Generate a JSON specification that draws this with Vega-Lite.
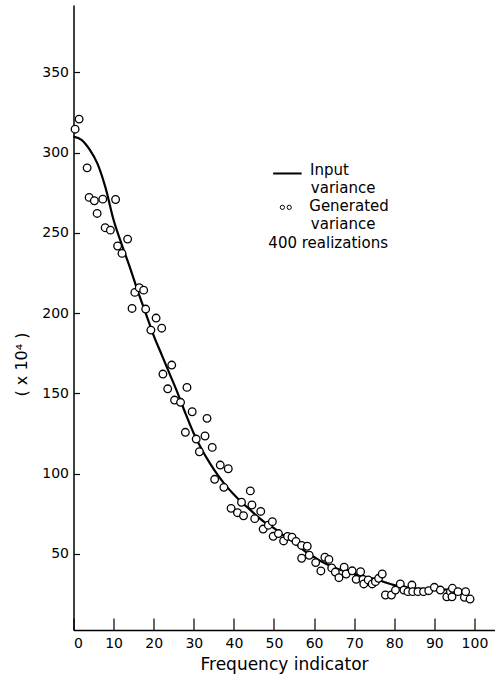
{
  "$schema": "https://vega.github.io/schema/vega-lite/v6.json",
  "width": 421,
  "height": 625,
  "autosize": {"type": "none"},
  "padding": {"left": 73.5, "top": 5, "right": 0.5, "bottom": 48},
  "background": "white",
  "config": {
    "view": {"stroke": null},
    "font": "DejaVu Sans",
    "axis": {
      "domainColor": "black",
      "domainWidth": 1.5,
      "tickColor": "black",
      "tickWidth": 1.2,
      "labelColor": "black",
      "labelFont": "DejaVu Sans",
      "labelFontSize": 14,
      "titleColor": "black",
      "titleFont": "DejaVu Sans",
      "titleFontWeight": "normal",
      "grid": false
    },
    "text": {"font": "DejaVu Sans", "fontSize": 15, "color": "black", "align": "left", "baseline": "alphabetic"}
  },
  "datasets": {
    "input": [
      {"k": 0, "v": 310}, {"k": 2, "v": 308}, {"k": 4, "v": 302}, {"k": 6, "v": 293},
      {"k": 8, "v": 278}, {"k": 10, "v": 258}, {"k": 12, "v": 243}, {"k": 14, "v": 229},
      {"k": 16, "v": 214}, {"k": 18, "v": 200}, {"k": 20, "v": 186}, {"k": 22, "v": 174},
      {"k": 24, "v": 162}, {"k": 26, "v": 150}, {"k": 28, "v": 137}, {"k": 30, "v": 125},
      {"k": 32, "v": 115}, {"k": 34, "v": 106.5}, {"k": 36, "v": 99}, {"k": 38, "v": 92.5},
      {"k": 40, "v": 87}, {"k": 42, "v": 82}, {"k": 44, "v": 77.5}, {"k": 46, "v": 73},
      {"k": 48, "v": 69}, {"k": 50, "v": 66}, {"k": 52, "v": 62}, {"k": 54, "v": 59},
      {"k": 56, "v": 55}, {"k": 58, "v": 51}, {"k": 60, "v": 48}, {"k": 62, "v": 45},
      {"k": 64, "v": 42.5}, {"k": 66, "v": 40.5}, {"k": 68, "v": 39}, {"k": 70, "v": 37.5},
      {"k": 72, "v": 36}, {"k": 74, "v": 35}, {"k": 76, "v": 33.7}, {"k": 78, "v": 32},
      {"k": 80, "v": 30.5}, {"k": 82, "v": 29.5}, {"k": 84, "v": 28.8}, {"k": 86, "v": 28.3},
      {"k": 88, "v": 28}, {"k": 90, "v": 28}, {"k": 92, "v": 27.8}, {"k": 94, "v": 27.6},
      {"k": 96, "v": 27.4}, {"k": 98, "v": 27.2}
    ],
    "generated": [
      {"k": 0.4, "v": 314.6}, {"k": 1.4, "v": 320.9}, {"k": 3.4, "v": 290.5}, {"k": 3.9, "v": 272.1},
      {"k": 5.2, "v": 270.0}, {"k": 5.9, "v": 262.1}, {"k": 7.3, "v": 271.0}, {"k": 7.9, "v": 253.2},
      {"k": 9.2, "v": 251.7}, {"k": 10.5, "v": 270.8}, {"k": 11.0, "v": 241.8}, {"k": 12.1, "v": 237.2},
      {"k": 13.5, "v": 246.1}, {"k": 14.6, "v": 202.9}, {"k": 15.3, "v": 212.9}, {"k": 16.4, "v": 215.8},
      {"k": 17.5, "v": 214.3}, {"k": 18.0, "v": 202.5}, {"k": 19.3, "v": 189.4}, {"k": 20.6, "v": 196.9},
      {"k": 22.0, "v": 190.6}, {"k": 22.3, "v": 162.0}, {"k": 23.5, "v": 152.8}, {"k": 24.5, "v": 167.6},
      {"k": 25.2, "v": 145.8}, {"k": 26.7, "v": 144.4}, {"k": 27.9, "v": 125.7}, {"k": 28.3, "v": 153.7},
      {"k": 29.6, "v": 138.5}, {"k": 30.6, "v": 121.5}, {"k": 31.4, "v": 113.6}, {"k": 32.8, "v": 123.4},
      {"k": 33.3, "v": 134.4}, {"k": 34.6, "v": 116.3}, {"k": 35.2, "v": 96.4}, {"k": 36.6, "v": 105.3},
      {"k": 37.5, "v": 91.4}, {"k": 38.6, "v": 103.0}, {"k": 39.3, "v": 78.3}, {"k": 40.9, "v": 75.6},
      {"k": 41.9, "v": 82.1}, {"k": 42.4, "v": 73.7}, {"k": 44.1, "v": 89.2}, {"k": 44.5, "v": 80.4},
      {"k": 45.2, "v": 71.9}, {"k": 46.7, "v": 76.4}, {"k": 47.3, "v": 65.4}, {"k": 48.6, "v": 67.8},
      {"k": 49.6, "v": 70.0}, {"k": 49.8, "v": 60.9}, {"k": 51.1, "v": 62.6}, {"k": 52.4, "v": 58.0},
      {"k": 53.4, "v": 60.8}, {"k": 54.5, "v": 60.3}, {"k": 55.5, "v": 57.7}, {"k": 56.9, "v": 55.2},
      {"k": 56.9, "v": 47.2}, {"k": 58.3, "v": 54.7}, {"k": 58.8, "v": 49.1}, {"k": 60.4, "v": 44.5},
      {"k": 61.7, "v": 39.3}, {"k": 62.7, "v": 47.9}, {"k": 63.7, "v": 46.5}, {"k": 64.4, "v": 41.2},
      {"k": 65.3, "v": 38.6}, {"k": 66.2, "v": 35.1}, {"k": 67.5, "v": 41.6}, {"k": 68.0, "v": 37.4},
      {"k": 69.5, "v": 39.4}, {"k": 70.5, "v": 34.1}, {"k": 71.6, "v": 38.8}, {"k": 72.2, "v": 34.1},
      {"k": 72.4, "v": 31.2}, {"k": 73.5, "v": 33.7}, {"k": 74.5, "v": 31.2}, {"k": 75.3, "v": 32.6},
      {"k": 76.1, "v": 34.7}, {"k": 77.0, "v": 37.4}, {"k": 77.8, "v": 24.3}, {"k": 79.3, "v": 24.3},
      {"k": 80.3, "v": 27.4}, {"k": 81.5, "v": 31.2}, {"k": 82.4, "v": 27.4}, {"k": 83.4, "v": 26.4},
      {"k": 84.4, "v": 30.5}, {"k": 84.6, "v": 26.4}, {"k": 85.9, "v": 26.4}, {"k": 87.3, "v": 26.4},
      {"k": 88.6, "v": 27.0}, {"k": 90.0, "v": 29.1}, {"k": 91.5, "v": 27.4}, {"k": 93.1, "v": 23.2},
      {"k": 94.0, "v": 26.4}, {"k": 94.5, "v": 28.5}, {"k": 94.4, "v": 23.2}, {"k": 95.9, "v": 26.4},
      {"k": 97.5, "v": 22.9}, {"k": 97.8, "v": 26.4}, {"k": 98.9, "v": 21.8}
    ]
  },
  "layer": [
    {
      "data": {"name": "input"},
      "mark": {"type": "line", "color": "black", "strokeWidth": 2.2, "interpolate": "monotone"},
      "encoding": {
        "x": {
          "field": "k", "type": "quantitative",
          "scale": {"domain": [0, 105], "nice": false, "zero": false},
          "axis": {
            "values": [0, 10, 20, 30, 40, 50, 60, 70, 80, 90, 100],
            "tickSize": -12, "labelPadding": 18, "labelFontSize": 14,
            "titleFontSize": 17, "titleY": 39, "titleBaseline": "alphabetic"
          },
          "title": "Frequency indicator"
        },
        "y": {
          "field": "v", "type": "quantitative",
          "scale": {"domain": [2.5, 392], "nice": false, "zero": false},
          "axis": {
            "values": [50, 100, 150, 200, 250, 300, 350],
            "tickSize": -6, "labelPadding": 11, "labelFontSize": 14,
            "titleFontSize": 16, "titleAngle": -90, "titleX": -52, "titleY": 359,
            "titleBaseline": "middle", "titleAlign": "center"
          },
          "title": "( x 10⁴ )"
        }
      }
    },
    {
      "data": {"name": "generated"},
      "mark": {"type": "point", "shape": "circle", "filled": true, "fill": "white", "stroke": "black", "strokeWidth": 1.3, "size": 58, "opacity": 1},
      "encoding": {
        "x": {"field": "k", "type": "quantitative", "title": "Frequency indicator"},
        "y": {"field": "v", "type": "quantitative", "title": "( x 10⁴ )"}
      }
    },
    {
      "data": {"values": [{}]},
      "mark": {"type": "rule", "color": "black", "strokeWidth": 2},
      "encoding": {
        "x": {"datum": 49.8, "type": "quantitative", "title": "Frequency indicator"},
        "x2": {"datum": 56.9},
        "y": {"datum": 287.0, "type": "quantitative", "title": "( x 10⁴ )"}
      }
    },
    {
      "data": {"values": [{}]},
      "mark": {"type": "point", "shape": "circle", "filled": false, "stroke": "black", "strokeWidth": 1, "size": 18, "opacity": 1},
      "encoding": {
        "x": {"datum": 52.1, "type": "quantitative", "title": "Frequency indicator"},
        "y": {"datum": 265.9, "type": "quantitative", "title": "( x 10⁴ )"}
      }
    },
    {
      "data": {"values": [{}]},
      "mark": {"type": "point", "shape": "circle", "filled": false, "stroke": "black", "strokeWidth": 1, "size": 18, "opacity": 1},
      "encoding": {
        "x": {"datum": 53.8, "type": "quantitative", "title": "Frequency indicator"},
        "y": {"datum": 265.9, "type": "quantitative", "title": "( x 10⁴ )"}
      }
    },
    {
      "data": {"values": [{}]},
      "mark": {"type": "text", "text": "Input"},
      "encoding": {
        "x": {"datum": 59.0, "type": "quantitative", "title": "Frequency indicator"},
        "y": {"datum": 286.0, "type": "quantitative", "title": "( x 10⁴ )"}
      }
    },
    {
      "data": {"values": [{}]},
      "mark": {"type": "text", "text": "variance"},
      "encoding": {
        "x": {"datum": 59.2, "type": "quantitative", "title": "Frequency indicator"},
        "y": {"datum": 274.8, "type": "quantitative", "title": "( x 10⁴ )"}
      }
    },
    {
      "data": {"values": [{}]},
      "mark": {"type": "text", "text": "Generated"},
      "encoding": {
        "x": {"datum": 58.8, "type": "quantitative", "title": "Frequency indicator"},
        "y": {"datum": 263.6, "type": "quantitative", "title": "( x 10⁴ )"}
      }
    },
    {
      "data": {"values": [{}]},
      "mark": {"type": "text", "text": "variance"},
      "encoding": {
        "x": {"datum": 59.2, "type": "quantitative", "title": "Frequency indicator"},
        "y": {"datum": 252.3, "type": "quantitative", "title": "( x 10⁴ )"}
      }
    },
    {
      "data": {"values": [{}]},
      "mark": {"type": "text", "text": "400 realizations"},
      "encoding": {
        "x": {"datum": 48.6, "type": "quantitative", "title": "Frequency indicator"},
        "y": {"datum": 240.5, "type": "quantitative", "title": "( x 10⁴ )"}
      }
    }
  ]
}
